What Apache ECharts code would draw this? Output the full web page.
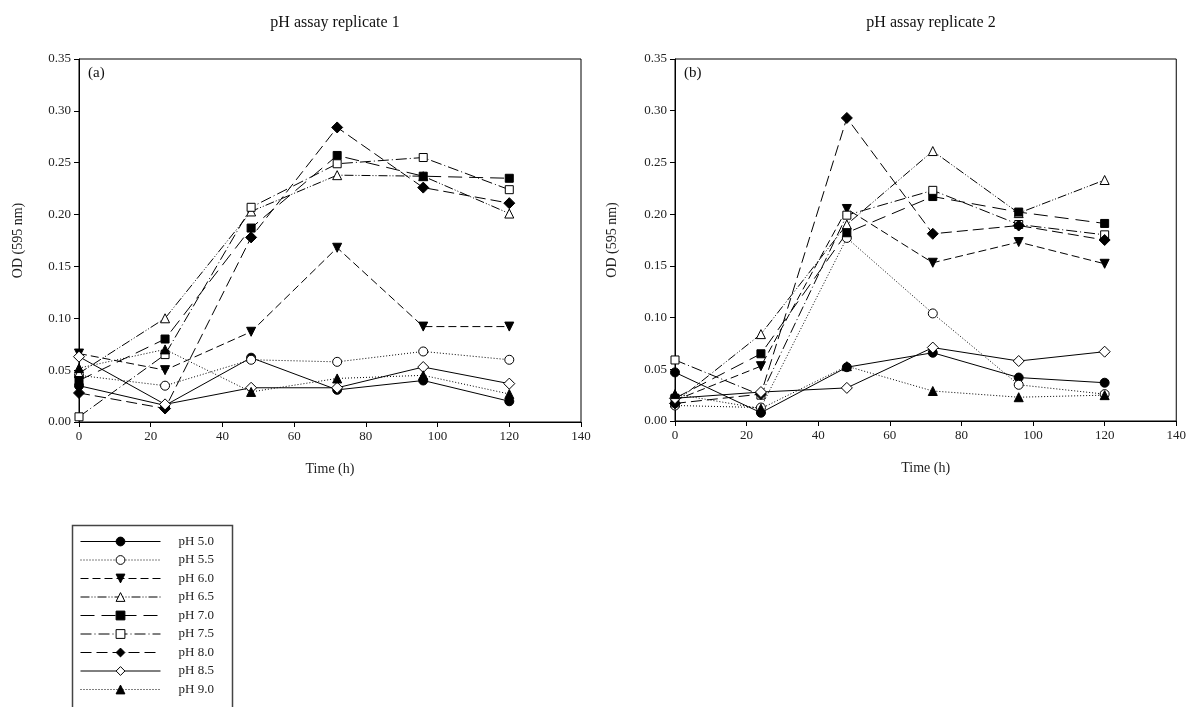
<!DOCTYPE html>
<html>
<head>
<meta charset="utf-8">
<script src="https://cdn.jsdelivr.net/npm/echarts@6/dist/echarts.min.js"></script>
<style>html,body{margin:0;padding:0;background:#fff}#c{width:1189px;height:707px}</style>
</head>
<body>
<div id="c"></div>
<script>
// ---- data ----
const times = [0, 24, 48, 72, 96, 120];
const seriesNames = ['pH 5.0','pH 5.5','pH 6.0','pH 6.5','pH 7.0','pH 7.5','pH 8.0','pH 8.5','pH 9.0'];
const xTicks = [0, 20, 40, 60, 80, 100, 120, 140];
const yTicks = [0, 0.05, 0.10, 0.15, 0.20, 0.25, 0.30, 0.35];
const titles = ['pH assay replicate 1', 'pH assay replicate 2'];
const panelTags = ['(a)', '(b)'];

// replicate 1 (panel a)
const r1_ph50 = [0.035, 0.016, 0.062, 0.031, 0.040, 0.020];
const r1_ph55 = [0.045, 0.035, 0.060, 0.058, 0.068, 0.060];
const r1_ph60 = [0.066, 0.050, 0.087, 0.168, 0.092, 0.092];
const r1_ph65 = [0.047, 0.100, 0.203, 0.238, 0.237, 0.201];
const r1_ph70 = [0.040, 0.080, 0.187, 0.257, 0.237, 0.235];
const r1_ph75 = [0.005, 0.065, 0.207, 0.249, 0.255, 0.224];
const r1_ph80 = [0.028, 0.013, 0.178, 0.284, 0.226, 0.211];
const r1_ph85 = [0.063, 0.017, 0.033, 0.033, 0.053, 0.037];
const r1_ph90 = [0.052, 0.070, 0.029, 0.042, 0.045, 0.027];

// replicate 2 (panel b)
const r2_ph50 = [0.047, 0.008, 0.052, 0.066, 0.042, 0.037];
const r2_ph55 = [0.015, 0.013, 0.177, 0.104, 0.035, 0.026];
const r2_ph60 = [0.020, 0.053, 0.205, 0.153, 0.173, 0.152];
const r2_ph65 = [0.018, 0.084, 0.190, 0.261, 0.201, 0.233];
const r2_ph70 = [0.022, 0.065, 0.182, 0.217, 0.202, 0.191];
const r2_ph75 = [0.059, 0.025, 0.199, 0.223, 0.190, 0.180];
const r2_ph80 = [0.017, 0.026, 0.293, 0.181, 0.189, 0.175];
const r2_ph85 = [0.022, 0.028, 0.032, 0.071, 0.058, 0.067];
const r2_ph90 = [0.026, 0.012, 0.053, 0.029, 0.023, 0.025];

const rep1 = [r1_ph50, r1_ph55, r1_ph60, r1_ph65, r1_ph70, r1_ph75, r1_ph80, r1_ph85, r1_ph90];
const rep2 = [r2_ph50, r2_ph55, r2_ph60, r2_ph65, r2_ph70, r2_ph75, r2_ph80, r2_ph85, r2_ph90];

// ---- styles ----
const styles = [
  {symbol:'circle',   filled:true,  dash:'solid', size:9},
  {symbol:'circle',   filled:false, dash:[1,2],   size:9},
  {symbol:'triangle', filled:true,  dash:[8,4],   size:9, rotate:180},
  {symbol:'triangle', filled:false, dash:[9,2,1,2,1,2], size:9},
  {symbol:'rect',     filled:true,  dash:[14,7],  size:8},
  {symbol:'rect',     filled:false, dash:[11,3,1,3], size:8},
  {symbol:'diamond',  filled:true,  dash:[11,5],  size:11},
  {symbol:'diamond',  filled:false, dash:'solid', size:11},
  {symbol:'triangle', filled:true,  dash:[1,2],   size:9}
];

const FONT = '"Liberation Serif", "Times New Roman", serif';
const grids = [
  {left:79, top:59, width:502, height:363},
  {left:675, top:59, width:502, height:362}
];

function makeSeries(data, gi) {
  return data.map((vals, i) => {
    const s = styles[i];
    return {
      name: seriesNames[i],
      type: 'line',
      xAxisIndex: gi, yAxisIndex: gi,
      data: times.map((t, k) => [t, vals[k]]),
      symbol: s.symbol,
      symbolSize: s.size,
      symbolRotate: s.rotate || 0,
      showAllSymbol: true,
      animation: false,
      lineStyle: {color:'#000', width:1, type:s.dash},
      itemStyle: {color: s.filled ? '#000' : '#fff', borderColor:'#000', borderWidth:1, opacity:1},
      emphasis: {disabled:true}
    };
  });
}

const xAxes = grids.map((g, gi) => ({
  type:'value', gridIndex:gi, min:xTicks[0], max:xTicks[xTicks.length-1], interval:20,
  name:'Time (h)', nameLocation:'middle', nameGap:40,
  nameTextStyle:{fontFamily:FONT, fontSize:14, color:'#222'},
  axisLine:{show:true, lineStyle:{color:'#000', width:1}},
  axisTick:{show:true, length:5, lineStyle:{color:'#000'}},
  axisLabel:{fontFamily:FONT, fontSize:13, color:'#222', margin:8},
  splitLine:{show:false}
}));
const yAxes = grids.map((g, gi) => ({
  type:'value', gridIndex:gi, min:yTicks[0], max:yTicks[yTicks.length-1], interval:0.05,
  name:'OD (595 nm)', nameLocation:'middle', nameGap: gi === 0 ? 54 : 56,
  nameTextStyle:{fontFamily:FONT, fontSize:14, color:'#222'},
  axisLine:{show:true, lineStyle:{color:'#000', width:1}},
  axisTick:{show:true, length:5, lineStyle:{color:'#000'}},
  axisLabel:{fontFamily:FONT, fontSize:13, color:'#222', margin:8, formatter: v => v.toFixed(2)},
  splitLine:{show:false}
}));

const option = {
  backgroundColor:'#fff',
  animation:false,
  title: titles.map((t, gi) => ({
    text:t, left: grids[gi].left + grids[gi].width/2, top:10, textAlign:'center',
    textStyle:{fontFamily:FONT, fontSize:16, fontWeight:'normal', color:'#111'}
  })),
  grid: grids.map(g => Object.assign({show:true, borderColor:'#000', borderWidth:1, backgroundColor:'transparent'}, g)),
  xAxis: xAxes,
  yAxis: yAxes,
  legend: {
    data: seriesNames,
    orient:'vertical', left:70, top:530, height:172,
    itemWidth:80, itemHeight:11, itemGap:5.5,
    padding:[5, 12, 0, 10],
    borderWidth:0,
    selectedMode:false,
    lineStyle:{width:1},
    itemStyle:{borderWidth:1},
    textStyle:{fontFamily:FONT, fontSize:13, color:'#222', padding:[0,0,0,13]}
  },
  graphic: panelTags.map((t, gi) => ({
    type:'text', left: grids[gi].left + 9, top: 66,
    style:{text:t, font:'15px ' + FONT, fill:'#111'}
  })).concat([{
    type:'rect', left:70, top:523, silent:true,
    shape:{x:0, y:0, width:160, height:200},
    style:{fill:'none', stroke:'#444', lineWidth:1.5}
  }]),
  series: makeSeries(rep1, 0).concat(makeSeries(rep2, 1))
};

const chart = echarts.init(document.getElementById('c'), null, {renderer:'canvas'});
chart.setOption(option);
</script>
</body>
</html>
